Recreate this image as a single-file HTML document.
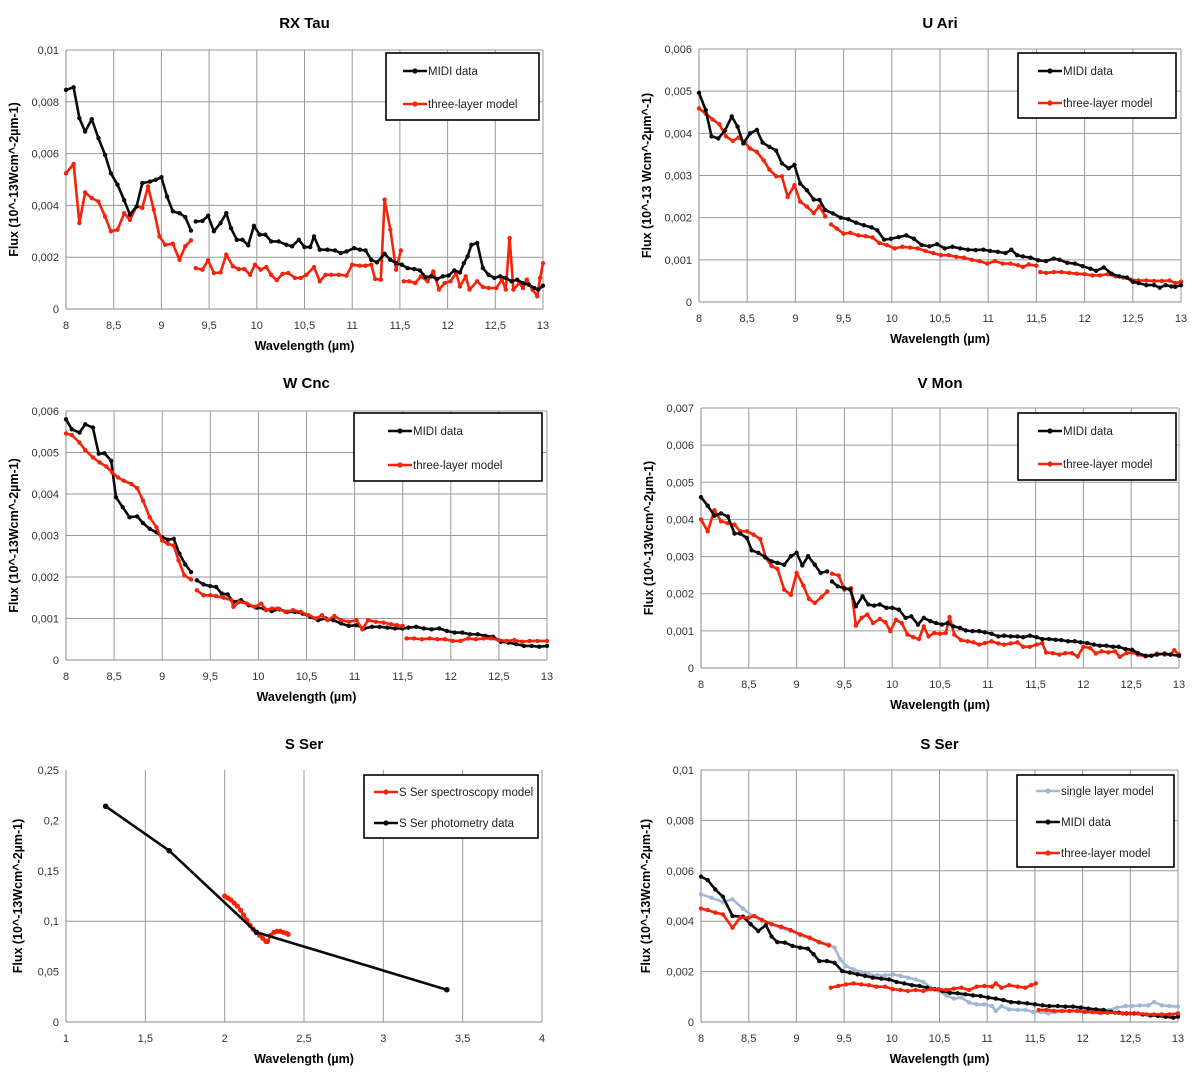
<!DOCTYPE html>
<html><head><meta charset="utf-8"><style>
html,body{margin:0;padding:0;background:#fff;}
svg{display:block;font-family:"Liberation Sans",sans-serif;}
</style></head><body>
<svg id="root" width="1200" height="1086" viewBox="0 0 1200 1086"></svg>
<script>
// ---- RX Tau ----
const rxX_midi=[8.0,8.08,8.14,8.2,8.27,8.34,8.41,8.47,8.54,8.61,8.67,8.74,8.8,8.88,8.94,9.0,9.06,9.12,9.19,9.25,9.31,null,9.36,9.43,9.49,9.55,9.62,9.68,9.73,9.79,9.85,9.91,9.97,10.03,10.09,10.15,10.23,10.31,10.37,10.44,10.5,10.56,10.6,10.66,10.74,10.82,10.88,10.94,11.02,11.08,11.14,11.2,11.26,11.34,11.4,11.46,11.52,11.58,11.65,11.71,11.77,11.83,11.89,11.95,12.01,12.07,12.13,12.17,12.21,12.25,12.31,12.37,12.43,12.49,12.55,12.61,12.67,12.73,12.79,12.85,12.91,12.95,13.0];
const rxY_midi=[0.00846,0.00856,0.00737,0.00685,0.00733,0.0066,0.00595,0.00524,0.0048,0.0042,0.00364,0.00396,0.00486,0.00492,0.00499,0.00509,0.00434,0.00377,0.0037,0.00355,0.00303,null,0.00338,0.0034,0.0036,0.003,0.00332,0.0037,0.00312,0.00267,0.00267,0.00246,0.00321,0.00287,0.00287,0.00261,0.00261,0.00248,0.00242,0.00267,0.00239,0.00239,0.0028,0.00229,0.00229,0.00226,0.00216,0.00222,0.00235,0.00229,0.00226,0.0019,0.0018,0.00213,0.0019,0.00177,0.00171,0.00158,0.00154,0.00149,0.00123,0.00126,0.00116,0.00126,0.00129,0.00149,0.00141,0.00177,0.00203,0.00248,0.00255,0.00158,0.00132,0.0012,0.00126,0.0012,0.00107,0.00113,0.001,0.00094,0.00081,0.00075,0.0009];
const rxX_model=[8.0,8.08,8.14,8.2,8.27,8.34,8.41,8.47,8.54,8.61,8.67,8.74,8.8,8.86,8.92,8.98,9.04,9.12,9.19,9.25,9.31,null,9.36,9.43,9.49,9.55,9.62,9.68,9.75,9.81,9.87,9.93,9.98,10.04,10.1,10.15,10.21,10.27,10.33,10.4,10.46,10.52,10.6,10.66,10.72,10.78,10.86,10.94,11.0,11.08,11.14,11.2,11.24,11.3,11.34,11.4,11.46,11.51,null,11.54,11.6,11.66,11.72,11.79,11.85,11.91,11.97,12.03,12.09,12.13,12.19,12.23,12.31,12.37,12.43,12.51,12.57,12.61,12.65,12.69,12.75,12.79,12.83,12.89,12.94,12.97,13.0];
const rxY_model=[0.00524,0.0056,0.00332,0.0045,0.00428,0.00415,0.00357,0.003,0.00306,0.0037,0.00344,0.00396,0.0039,0.00473,0.00383,0.0028,0.00248,0.00252,0.0019,0.00242,0.00265,null,0.00158,0.00152,0.00188,0.00139,0.00141,0.0021,0.00165,0.00154,0.00154,0.00132,0.00171,0.00152,0.00162,0.00132,0.00111,0.00136,0.00139,0.0012,0.0012,0.00132,0.00162,0.00107,0.00132,0.00132,0.00132,0.00129,0.00171,0.00167,0.00167,0.00171,0.00116,0.00113,0.00422,0.00306,0.00152,0.00226,null,0.00107,0.00107,0.001,0.00126,0.00107,0.00145,0.00075,0.001,0.00107,0.00139,0.00087,0.00126,0.00075,0.00107,0.00085,0.00081,0.00081,0.00113,0.00075,0.00274,0.00075,0.001,0.00081,0.00113,0.00075,0.00049,0.0012,0.00177];
// ---- U Ari ----
const uaX_midi=[8.0,8.07,8.13,8.2,8.27,8.34,8.4,8.46,8.53,8.6,8.66,8.73,8.8,8.86,8.93,8.99,9.05,9.12,9.19,9.25,9.31,9.39,9.47,9.55,9.63,9.71,9.79,9.85,9.92,9.99,10.07,10.15,10.23,10.31,10.39,10.47,10.55,10.63,10.71,10.79,10.87,10.95,11.02,11.1,11.18,11.24,11.3,11.36,11.44,11.52,11.6,11.68,11.74,11.82,11.9,11.98,12.06,12.12,12.2,12.28,12.36,12.44,12.5,12.56,12.64,12.72,12.78,12.84,12.9,12.94,13.0];
const uaY_midi=[0.00496,0.00455,0.00393,0.00388,0.00407,0.0044,0.00416,0.00376,0.004,0.00408,0.00378,0.00368,0.00359,0.00329,0.00317,0.00325,0.00281,0.00265,0.00243,0.00242,0.00218,0.0021,0.002,0.00196,0.00188,0.00182,0.00177,0.0017,0.00148,0.0015,0.00154,0.00158,0.0015,0.00135,0.00132,0.00137,0.00127,0.00131,0.00127,0.00124,0.00123,0.00124,0.00121,0.00119,0.00116,0.00124,0.00111,0.00108,0.00105,0.00099,0.00097,0.00103,0.001,0.00093,0.00091,0.00085,0.00079,0.00074,0.00082,0.00067,0.00061,0.00058,0.00048,0.00045,0.0004,0.0004,0.00034,0.0004,0.00037,0.00036,0.0004];
const uaX_model=[8.0,8.07,8.14,8.21,8.28,8.35,8.41,8.47,8.53,8.6,8.67,8.73,8.8,8.86,8.92,8.99,9.05,9.12,9.19,9.25,9.31,null,9.37,9.43,9.5,9.57,9.65,9.73,9.8,9.87,9.95,10.03,10.11,10.19,10.27,10.35,10.43,10.51,10.59,10.67,10.75,10.83,10.91,10.99,11.07,11.15,11.23,11.31,11.36,11.42,11.5,null,11.54,11.6,11.68,11.76,11.84,11.92,12.0,12.08,12.16,12.24,12.32,12.4,12.48,12.56,12.64,12.72,12.8,12.88,12.94,13.0];
const uaY_model=[0.00459,0.00447,0.00433,0.00422,0.00393,0.00382,0.0039,0.0038,0.00364,0.00356,0.00336,0.00314,0.00298,0.00298,0.00249,0.00277,0.00238,0.00226,0.00211,0.00227,0.00203,null,0.00184,0.00174,0.00162,0.00164,0.00158,0.00156,0.00153,0.0014,0.00135,0.00127,0.00131,0.00129,0.00127,0.00121,0.00116,0.00111,0.00111,0.00107,0.00105,0.001,0.00097,0.00091,0.00097,0.00091,0.00091,0.00087,0.00083,0.00089,0.00086,null,0.00071,0.00069,0.00071,0.00071,0.00069,0.00067,0.00066,0.00063,0.00063,0.00066,0.00061,0.00058,0.00053,0.00051,0.00051,0.0005,0.0005,0.00051,0.00045,0.00048];
// ---- W Cnc ----
const wcX_midi=[8.0,8.06,8.14,8.2,8.28,8.34,8.4,8.47,8.52,8.59,8.66,8.74,8.8,8.87,8.94,9.0,9.06,9.12,9.18,9.24,9.3,null,9.36,9.43,9.5,9.56,9.62,9.68,9.74,9.82,9.9,9.98,10.06,10.14,10.22,10.3,10.38,10.46,10.54,10.62,10.7,10.78,10.86,10.94,11.02,11.1,11.18,11.26,11.34,11.42,11.5,11.56,11.64,11.72,11.8,11.88,11.96,12.04,12.12,12.2,12.28,12.36,12.44,12.52,12.6,12.68,12.76,12.84,12.92,13.0];
const wcY_midi=[0.0058,0.00556,0.00548,0.00568,0.0056,0.00497,0.00498,0.0048,0.00392,0.00368,0.00344,0.00346,0.0033,0.00316,0.00308,0.00296,0.0029,0.00292,0.00256,0.0023,0.00212,null,0.00192,0.00182,0.00178,0.00176,0.0016,0.00158,0.0014,0.00144,0.00132,0.00126,0.00124,0.00118,0.00122,0.00116,0.00116,0.00112,0.00104,0.00096,0.001,0.00096,0.00088,0.00082,0.00084,0.00076,0.0008,0.0008,0.00078,0.00076,0.00076,0.00078,0.0008,0.00076,0.00074,0.00076,0.0007,0.00066,0.00066,0.00062,0.00062,0.00058,0.00056,0.00044,0.00042,0.00038,0.00034,0.00034,0.00032,0.00034];
const wcX_model=[8.0,8.06,8.14,8.2,8.28,8.35,8.42,8.48,8.54,8.6,8.68,8.74,8.8,8.87,8.94,9.0,9.06,9.12,9.17,9.23,9.3,null,9.36,9.43,9.5,9.56,9.64,9.72,9.74,9.8,9.88,9.96,10.03,10.08,10.14,10.2,10.28,10.36,10.44,10.52,10.6,10.66,10.72,10.79,10.86,10.94,11.02,11.08,11.14,11.22,11.3,11.38,11.44,11.5,null,11.54,11.62,11.7,11.78,11.86,11.94,12.02,12.1,12.18,12.26,12.34,12.42,12.5,12.58,12.66,12.74,12.82,12.9,13.0];
const wcY_model=[0.00546,0.00542,0.00524,0.00506,0.00488,0.00476,0.00466,0.00452,0.0044,0.00432,0.00424,0.00414,0.00384,0.00344,0.0032,0.00288,0.0028,0.00276,0.0024,0.00204,0.00194,null,0.00168,0.00156,0.00156,0.00154,0.0015,0.00144,0.00128,0.0014,0.00136,0.00128,0.00136,0.0012,0.00124,0.00124,0.00116,0.0012,0.00116,0.00108,0.001,0.00108,0.00096,0.00106,0.00096,0.00092,0.00096,0.00074,0.00096,0.00092,0.0009,0.00086,0.00084,0.00082,null,0.00052,0.00052,0.0005,0.00052,0.0005,0.0005,0.00046,0.00046,0.00052,0.0005,0.00052,0.00052,0.00048,0.00046,0.00048,0.00044,0.00046,0.00046,0.00046];
// ---- V Mon ----
const vmX_midi=[8.0,8.07,8.14,8.21,8.28,8.35,8.41,8.48,8.53,8.6,8.67,8.74,8.8,8.87,8.94,9.0,9.06,9.12,9.19,9.25,9.32,null,9.37,9.43,9.5,9.56,9.62,9.69,9.75,9.81,9.87,9.94,10.0,10.07,10.14,10.2,10.27,10.33,10.4,10.46,10.52,10.58,10.64,10.71,10.77,10.84,10.91,10.97,11.04,11.11,11.17,11.24,11.31,11.37,11.44,11.51,11.57,11.64,11.71,11.77,11.84,11.91,11.97,12.04,12.11,12.17,12.24,12.31,12.37,12.44,12.51,12.57,12.65,12.71,12.77,12.85,12.91,13.0];
const vmY_midi=[0.0046,0.00437,0.0041,0.00416,0.00408,0.00362,0.00362,0.0035,0.00317,0.0031,0.00299,0.00287,0.00283,0.00278,0.00301,0.0031,0.00276,0.00301,0.00278,0.00256,0.0026,null,0.00233,0.0022,0.00215,0.00211,0.00166,0.00193,0.00171,0.00168,0.00171,0.00162,0.00162,0.00157,0.00135,0.00139,0.00117,0.00135,0.00126,0.00121,0.00117,0.00121,0.00112,0.00108,0.00101,0.00099,0.00099,0.00096,0.00092,0.00085,0.00087,0.00085,0.00085,0.00083,0.00087,0.00083,0.00078,0.00078,0.00076,0.00075,0.00072,0.00072,0.00069,0.00067,0.00063,0.0006,0.0006,0.00057,0.00057,0.00051,0.00049,0.0004,0.00033,0.00033,0.00036,0.00039,0.00036,0.00033];
const vmX_model=[8.0,8.07,8.14,8.21,8.28,8.35,8.41,8.48,8.55,8.62,8.68,8.74,8.8,8.87,8.94,9.0,9.07,9.13,9.19,9.26,9.32,null,9.37,9.44,9.5,9.57,9.62,9.68,9.74,9.8,9.87,9.93,9.98,10.04,10.1,10.16,10.22,10.28,10.33,10.38,10.44,10.5,10.56,10.6,10.65,10.72,10.79,10.85,10.91,10.97,11.04,11.11,11.17,11.24,11.31,11.37,11.44,11.51,11.57,11.61,11.68,11.75,11.81,11.88,11.94,12.0,12.07,12.13,12.19,12.26,12.33,12.38,12.45,12.51,12.57,12.65,12.71,12.77,12.85,12.91,12.95,13.0];
const vmY_model=[0.004,0.00368,0.00425,0.00395,0.0039,0.00386,0.00368,0.00368,0.00359,0.00347,0.00296,0.00274,0.00267,0.00211,0.00197,0.00256,0.00222,0.00186,0.00175,0.00191,0.00206,null,0.00254,0.00249,0.00211,0.00215,0.00114,0.00135,0.00144,0.00121,0.00132,0.00123,0.00099,0.0013,0.00121,0.0009,0.00083,0.00078,0.00112,0.00085,0.00094,0.00092,0.00094,0.00137,0.0009,0.00075,0.00072,0.00069,0.00063,0.00067,0.00072,0.00066,0.00063,0.00066,0.00069,0.00057,0.00057,0.00063,0.00067,0.00042,0.0004,0.00036,0.0004,0.0004,0.00031,0.00057,0.00054,0.00039,0.00045,0.00042,0.00045,0.0003,0.0004,0.00042,0.00036,0.00031,0.00033,0.00039,0.00036,0.00036,0.00048,0.00036];
// ---- S Ser (photometry) ----
const ssPhotX=[1.25,1.65,2.2,3.4];
const ssPhotY=[0.214,0.17,0.089,0.032];
const ssSpecX=[2.0,2.02,2.04,2.06,2.08,2.1,2.12,2.14,2.16,2.18,2.2,2.22,2.24,2.26,2.27,2.29,2.31,2.33,2.35,2.37,2.39,2.4];
const ssSpecY=[0.125,0.123,0.121,0.118,0.115,0.111,0.106,0.101,0.096,0.092,0.089,0.086,0.083,0.08,0.08,0.086,0.089,0.09,0.09,0.089,0.088,0.087];
// ---- S Ser (MIDI) ----
const sxX_single=[8.0,8.11,8.23,8.33,8.44,8.54,8.64,8.74,8.84,8.94,9.04,9.14,9.24,9.34,9.4,9.46,9.52,9.6,9.68,9.76,9.85,9.93,10.01,10.09,10.17,10.25,10.33,10.41,10.49,10.57,10.65,10.73,10.81,10.89,10.97,11.05,11.09,11.15,11.23,11.32,11.4,11.48,11.56,11.64,11.72,11.8,11.88,11.96,12.04,12.12,12.2,12.28,12.36,12.45,12.52,12.6,12.69,12.75,12.83,12.91,13.0];
const sxY_single=[0.00507,0.00493,0.00476,0.00487,0.0045,0.00421,0.00401,0.00388,0.00374,0.00361,0.00344,0.00331,0.00315,0.00308,0.00295,0.00249,0.00222,0.00209,0.00198,0.00189,0.00185,0.00185,0.00189,0.00183,0.00176,0.00169,0.00159,0.00136,0.00123,0.00106,0.00093,0.00097,0.00077,0.0007,0.0007,0.00063,0.00044,0.00063,0.0005,0.00048,0.00048,0.0004,0.0004,0.00034,0.0004,0.00044,0.00044,0.00044,0.0004,0.00037,0.00034,0.00048,0.00057,0.00063,0.00063,0.00066,0.00066,0.00079,0.00066,0.00063,0.00061];
const sxX_midi=[8.0,8.07,8.15,8.23,8.33,8.44,8.52,8.6,8.68,8.74,8.8,8.88,8.96,9.04,9.12,9.18,9.24,9.32,9.4,9.48,9.56,9.64,9.72,9.8,9.89,9.97,10.05,10.13,10.21,10.29,10.37,10.45,10.53,10.61,10.69,10.77,10.85,10.93,11.01,11.09,11.17,11.25,11.33,11.42,11.5,11.58,11.65,11.74,11.82,11.9,11.98,12.06,12.14,12.22,12.3,12.38,12.46,12.54,12.63,12.71,12.79,12.87,12.95,13.0];
const sxY_midi=[0.00577,0.00563,0.00526,0.00497,0.00421,0.00418,0.00388,0.00361,0.00384,0.00339,0.00317,0.00315,0.00302,0.00295,0.00291,0.00269,0.00242,0.00242,0.00235,0.00202,0.00196,0.00189,0.00183,0.00176,0.00172,0.00169,0.00159,0.00153,0.00146,0.00143,0.00136,0.0013,0.00123,0.00116,0.00114,0.0011,0.00106,0.00103,0.00097,0.00093,0.00087,0.00079,0.00077,0.00074,0.0007,0.00066,0.00063,0.00063,0.00061,0.00061,0.00057,0.00053,0.0005,0.00048,0.0004,0.00037,0.00034,0.00034,0.0003,0.00026,0.00024,0.00021,0.00017,0.00021];
const sxX_model=[8.0,8.07,8.15,8.23,8.33,8.41,8.5,8.56,8.64,8.74,8.84,8.94,9.04,9.14,9.24,9.34,null,9.36,9.44,9.52,9.6,9.68,9.76,9.84,9.93,10.01,10.09,10.17,10.25,10.33,10.41,10.49,10.57,10.65,10.73,10.81,10.89,10.97,11.05,11.09,11.15,11.23,11.32,11.4,11.46,11.51,null,11.54,11.62,11.7,11.78,11.86,11.94,12.02,12.1,12.18,12.26,12.34,12.42,12.5,12.58,12.67,12.75,12.83,12.91,13.0];
const sxY_model=[0.0045,0.00444,0.00434,0.00427,0.00374,0.00414,0.00414,0.00421,0.00405,0.00388,0.00378,0.00365,0.00348,0.00335,0.00317,0.00304,null,0.00136,0.00143,0.00149,0.00153,0.00149,0.00146,0.0014,0.0014,0.0013,0.00127,0.00123,0.00127,0.00123,0.0013,0.0013,0.00127,0.00132,0.00136,0.00127,0.0014,0.00143,0.0014,0.00153,0.00136,0.00146,0.0014,0.00136,0.00146,0.00153,null,0.00048,0.00048,0.00044,0.00044,0.00044,0.00044,0.0004,0.0004,0.00037,0.00037,0.00037,0.00034,0.00034,0.00034,0.0003,0.0003,0.0003,0.0003,0.00034];

const yTicks01=[0,0.002,0.004,0.006,0.008,0.01];
const yTicks006=[0,0.001,0.002,0.003,0.004,0.005,0.006];
const yTicks007=[0,0.001,0.002,0.003,0.004,0.005,0.006,0.007];
const yTicks025=[0,0.05,0.1,0.15,0.2,0.25];
const xTicksMidi=[8,8.5,9,9.5,10,10.5,11,11.5,12,12.5,13];
const xTicksPhot=[1,1.5,2,2.5,3,3.5,4];

const RED='#f5230a', BLK='#0b0b0b', BLUE='#a3b7d4';
const svg=document.getElementById('root');
const NS='http://www.w3.org/2000/svg';
function mk(tag,attrs,parent){const e=document.createElementNS(NS,tag);for(const k in attrs)e.setAttribute(k,attrs[k]);(parent||svg).appendChild(e);return e;}
function fmt(v){let s=String(+v.toFixed(4));return s.replace('.',',');}

function panel(p){
  const g=mk('g',{});
  
  
  const xs=v=>p.L+(v-p.xmin)/(p.xmax-p.xmin)*(p.R-p.L);
  const ys=v=>p.B-(v-p.ymin)/(p.ymax-p.ymin)*(p.B-p.T);
  // gridlines
  p.yt.forEach(v=>{if(p.hgrid&&!p.hgrid.includes(v)&&v!==0)return;const l=mk('line',{x1:p.L,x2:p.R,y1:ys(v),y2:ys(v),stroke:'#9a9a9a','stroke-width':1},g);
    });
  p.xt.forEach(v=>{const l=mk('line',{x1:xs(v),x2:xs(v),y1:p.T,y2:p.B,stroke:'#9a9a9a','stroke-width':1},g);
    });
  mk('line',{x1:p.L,x2:p.R,y1:p.B,y2:p.B,stroke:'#888','stroke-width':1},g);
  mk('line',{x1:p.L,x2:p.L,y1:p.T,y2:p.B,stroke:'#888','stroke-width':1},g);
  // tick labels
  p.yt.forEach(v=>{const t=mk('text',{x:p.L-7,y:ys(v)+4,'text-anchor':'end','font-size':11,fill:'#333'},g);t.textContent=fmt(v);
    });
  p.xt.forEach(v=>{const t=mk('text',{x:xs(v),y:p.B+20,'text-anchor':'middle','font-size':11,fill:'#333'},g);t.textContent=fmt(v);
    });
  // titles
  const tt=mk('text',{x:(p.L+p.R)/2,y:p.titleY,'text-anchor':'middle','font-size':15,'font-weight':'bold',fill:'#000'},g);tt.textContent=p.title;
  
  const xt=mk('text',{x:(p.L+p.R)/2,y:p.B+41,'text-anchor':'middle','font-size':12.5,'font-weight':'bold',fill:'#000'},g);xt.textContent='Wavelength (µm)';
  
  const cy=(p.T+p.B)/2;
  const yt=mk('text',{x:p.yTitleX,y:cy,'text-anchor':'middle','font-size':12.5,'font-weight':'bold',fill:'#000',transform:`rotate(-90 ${p.yTitleX} ${cy})`},g);yt.textContent=p.ylabel;
  
  // series
  p.series.forEach(s=>{
    const sg=mk('g',{},g);
    
    
    let d='',pen=false;
    for(let i=0;i<s.x.length;i++){
      if(s.x[i]===null||s.y[i]===null){pen=false;continue;}
      d+=(pen?'L':'M')+xs(s.x[i]).toFixed(1)+' '+ys(s.y[i]).toFixed(1);pen=true;
    }
    const path=mk('path',{d:d,fill:'none',stroke:s.c,'stroke-width':2.6,'stroke-linejoin':'round'},sg);
    
    
    for(let i=0;i<s.x.length;i++){
      if(s.x[i]===null||s.y[i]===null)continue;
      const c=mk('circle',{cx:xs(s.x[i]),cy:ys(s.y[i]),r:s.r||2.2,fill:s.c},sg);
      
      
    }
  });
  // legend
  const lg=mk('g',{},g);
  
  
  mk('rect',{x:p.leg[0],y:p.leg[1],width:p.leg[2]-p.leg[0],height:p.leg[3]-p.leg[1],fill:'#fff',stroke:'#000','stroke-width':1.6},lg);
  p.legItems.forEach((it,i)=>{
    const y=p.legY[i];
    const eg=mk('g',{},lg);
    
    
    mk('line',{x1:p.legX,x2:p.legX+24,y1:y,y2:y,stroke:it.c,'stroke-width':2.6},eg);
    mk('circle',{cx:p.legX+12,cy:y,r:2.6,fill:it.c},eg);
    const t=mk('text',{x:p.legX+25,y:y+4,'font-size':11.5,fill:'#222'},eg);t.textContent=it.t;
  });
}

const midiLeg=[{t:'MIDI data',c:BLK},{t:'three-layer model',c:RED}];
panel({name:'rx-tau-chart',title:'RX Tau',titleY:28,L:66,R:543,T:50,B:309,xmin:8,xmax:13,ymin:0,ymax:0.01,yt:yTicks01,xt:xTicksMidi,yTitleX:18,ylabel:'Flux (10^-13Wcm^-2µm-1)',
  series:[{id:'rx-tau-model',x:rxX_model,y:rxY_model,c:RED},{id:'rx-tau-midi',x:rxX_midi,y:rxY_midi,c:BLK}],
  leg:[386,53,539,120],legX:403,legY:[71,104],legItems:midiLeg});
panel({name:'u-ari-chart',title:'U Ari',titleY:28,L:699,R:1181,T:49,B:302,xmin:8,xmax:13,ymin:0,ymax:0.006,yt:yTicks006,xt:xTicksMidi,yTitleX:651,ylabel:'Flux (10^-13 Wcm^-2µm^-1)',
  series:[{id:'u-ari-model',x:uaX_model,y:uaY_model,c:RED},{id:'u-ari-midi',x:uaX_midi,y:uaY_midi,c:BLK}],
  leg:[1018,53,1176,118],legX:1038,legY:[71,103],legItems:midiLeg});
panel({name:'w-cnc-chart',title:'W Cnc',titleY:388,L:66,R:547,T:411,B:660,xmin:8,xmax:13,ymin:0,ymax:0.006,yt:yTicks006,xt:xTicksMidi,yTitleX:18,ylabel:'Flux (10^-13Wcm^-2µm-1)',
  series:[{id:'w-cnc-midi',x:wcX_midi,y:wcY_midi,c:BLK},{id:'w-cnc-model',x:wcX_model,y:wcY_model,c:RED}],
  leg:[354,413,542,481],legX:388,legY:[431,465],legItems:midiLeg});
panel({name:'v-mon-chart',title:'V Mon',titleY:388,L:701,R:1179,T:408,B:668,xmin:8,xmax:13,ymin:0,ymax:0.007,yt:yTicks007,xt:xTicksMidi,yTitleX:653,ylabel:'Flux (10^-13Wcm^-2µm-1)',
  series:[{id:'v-mon-model',x:vmX_model,y:vmY_model,c:RED},{id:'v-mon-midi',x:vmX_midi,y:vmY_midi,c:BLK}],
  leg:[1018,413,1176,480],legX:1038,legY:[431,464],legItems:midiLeg});
panel({name:'s-ser-photometry-chart',title:'S Ser',titleY:749,L:66,R:542,T:770,B:1022,xmin:1,xmax:4,ymin:0,ymax:0.25,yt:yTicks025,hgrid:[0.1],xt:xTicksPhot,yTitleX:22,ylabel:'Flux (10^-13Wcm^-2µm-1)',
  series:[{id:'s-ser-spectroscopy-model',x:ssSpecX,y:ssSpecY,c:RED,r:2.6},{id:'s-ser-photometry-data',x:ssPhotX,y:ssPhotY,c:BLK,r:2.8}],
  leg:[364,775,538,838],legX:374,legY:[792,823],legItems:[{t:'S Ser spectroscopy model',c:RED},{t:'S Ser photometry data',c:BLK}]});
panel({name:'s-ser-midi-chart',title:'S Ser',titleY:749,L:701,R:1178,T:770,B:1022,xmin:8,xmax:13,ymin:0,ymax:0.01,yt:yTicks01,xt:xTicksMidi,yTitleX:650,ylabel:'Flux (10^-13Wcm^-2µm-1)',
  series:[{id:'s-ser-single-layer',x:sxX_single,y:sxY_single,c:BLUE},{id:'s-ser-midi',x:sxX_midi,y:sxY_midi,c:BLK},{id:'s-ser-three-layer',x:sxX_model,y:sxY_model,c:RED}],
  leg:[1017,775,1174,867],legX:1036,legY:[791,822,853],legItems:[{t:'single layer model',c:BLUE},{t:'MIDI data',c:BLK},{t:'three-layer model',c:RED}]});
</script>
</body></html>
